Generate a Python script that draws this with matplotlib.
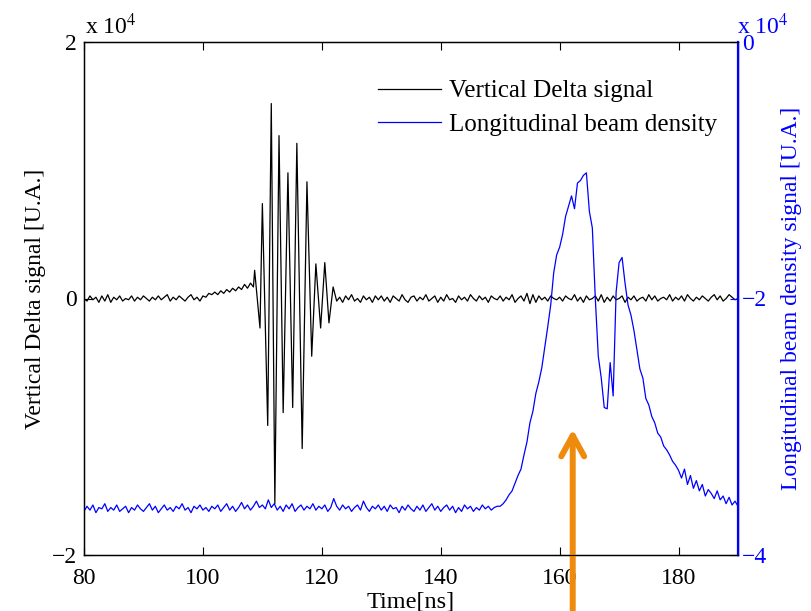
import numpy as np
import matplotlib
matplotlib.use("Agg")
import matplotlib.pyplot as plt

plt.rcParams['font.family'] = ['Liberation Serif', 'DejaVu Serif']
plt.rcParams['mathtext.fontset'] = 'stix'

# ---------------- data ----------------
# Vertical Delta signal, units of 100 counts
delta_t_pre = np.arange(80.0, 108.51, 0.5)
delta_pre = [0, -2, 2, -1, 1, -3, 2, -2, 3, -3, 1, -1, 2, -2, 0, -1, 2, -2, 1, -1,
             2, 0, -2, 1, -1, 2, -1, 1, 3, -2, 1, -1, 2, 0, -2, 1, 3, -1, 1, -2,
             2, 1, 4, 3, 5, 3, 6, 4, 7, 5, 8, 6, 9, 7, 11, 8, 12, 9]
delta_t_burst = [108.7, 109.6, 110.0, 110.9, 111.5, 112.1, 112.8, 113.5, 114.3, 115.1,
                 115.8, 116.7, 117.5, 118.3, 119.0, 119.8, 120.5, 121.2, 121.9]
delta_burst = [22, -23, 74, -99, 152, -160, 127, -89, 98, -85,
               121, -117, 91, -45, 27, -23, 28, -19, 9]
delta_t_post = np.arange(122.5, 190.01, 0.5)
delta_post = [-2, 1, -3, 2, -1, 3, -2, 0, -3, 2, -1, 1, -3, 2, -1,
              2, -2, 1, -3, 2, 0, -2, 3, -1, -3, 1, 2, -2, 1, -1, 3, -2, 0, 2, -3,
              1, -2, 3, -1, 0, -3, 2, -1, 1, -2, 3, 0, -2, 2, -1, 1, -3, 2, 0, -1,
              2, -2, 1, -1, 3, -3, 0, 2, -2, 4, -4, 3, -3, 2, -1, 1, -2, 2, 0, -1,
              1, -2, 2, 0, -1, 3, -2, 1, -3, 2, -1, 0, 2, -2, 3, -3, 1, -2, 2, -1,
              0, 2, -3, 1, -1, 2, -2, 0, 1, -2, 3, -1, 2, -2, 0, 1, -1, 3, -2, 1,
              -1, 2, -2, 3, 0, -2, 1, -1, 2, 0, -2, 1, 3, -1, 2, -2, 0, 3, 1, -1, 0]

# Longitudinal beam density, units of 100 counts
density_t = np.arange(80.0, 190.01, 0.5)
density = [-366, -362, -365, -361, -367, -363, -364, -360, -366, -363, -365, -361, -366, -364, -362, -367, -363, -365, -361, -364,
           -366, -363, -360, -365, -362, -367, -364, -361, -365, -363, -366, -362, -364, -360, -365, -363, -367, -362, -364, -361,
           -365, -363, -366, -362, -364, -361, -366, -363, -360, -365, -362, -366, -363, -359, -364, -361, -365, -362, -358, -363,
           -361, -364, -357, -363, -360, -365, -362, -366, -361, -364, -360, -366, -363, -361, -365, -362, -364, -360, -365, -362,
           -364, -361, -366, -363, -356, -362, -365, -361, -364, -362, -366, -363, -361, -365, -358, -363, -366, -362, -364, -361,
           -365, -362, -366, -361, -364, -363, -367, -362, -365, -361, -364, -366, -362, -365, -361, -366, -363, -360, -365, -362,
           -366, -363, -361, -365, -362, -367, -363, -366, -361, -364, -362, -366, -363, -365, -361, -364, -362, -365, -363, -362,
           -362, -360, -357, -353, -350, -344, -338, -333, -322, -312, -297, -288, -274, -265, -254, -238, -222, -205, -180, -166,
           -160, -150, -136, -128, -120, -130, -110, -108, -104, -102, -132, -145, -200, -245, -262, -285, -286, -250, -276, -195,
           -172, -168, -188, -205, -213, -225, -240, -255, -262, -278, -283, -292, -297, -305, -308, -315, -318, -322, -327, -330,
           -334, -340, -333, -345, -338, -348, -342, -350, -345, -354, -349, -352, -356, -350, -357, -354, -360, -355, -361, -358, -362]

unit = 100.0
delta_t = np.concatenate([delta_t_pre, delta_t_burst, delta_t_post])
delta_v = np.concatenate([delta_pre, delta_burst, delta_post]) * unit
density_v = np.array(density) * unit

x_ticks = [80, 100, 120, 140, 160, 180]
left_ticks = [-2e4, 0, 2e4]
left_labels = ['\u22122', '0', '2']
right_ticks = [-4e4, -2e4, 0]
right_labels = ['\u22124', '\u22122', '0']

arrow_x = 162.2

# ---------------- figure ----------------
W, H = 811, 611
fig = plt.figure(figsize=(W / 100, H / 100), dpi=100)
ax = fig.add_axes([84 / W, 1 - 555 / H, 654 / W, 513 / H])
ax2 = ax.twinx()

fs = 17
blue = '#0000FF'

l1, = ax.plot(delta_t, delta_v, color='black', lw=0.9, label='Vertical Delta signal')
l2, = ax2.plot(density_t, density_v, color=blue, lw=0.9, label='Longitudinal beam density')

ax.set_xlim(80, 190)
ax.set_ylim(-2e4, 2e4)
ax2.set_ylim(-4e4, 0)

ax.set_xticks(x_ticks)
ax.set_xticklabels([str(v) for v in x_ticks], fontsize=fs)
ax.set_yticks(left_ticks)
ax.set_yticklabels(left_labels, fontsize=fs)
ax2.set_yticks(right_ticks)
ax2.set_yticklabels(right_labels, fontsize=fs, color=blue)

ax.tick_params(axis='x', direction='in', length=6, top=True, pad=9)
ax.tick_params(axis='y', direction='in', length=6, pad=5)
ax2.tick_params(axis='y', direction='in', length=6, colors=blue, pad=3)
for s in ax.spines.values():
    s.set_linewidth(1.0)
ax2.spines['right'].set_color(blue)
ax2.spines['right'].set_linewidth(1.6)

ax.set_xlabel('Time[ns]', fontsize=17.5, labelpad=2)
ax.set_ylabel('Vertical Delta signal [U.A.]', fontsize=fs, labelpad=4)
ax2.set_ylabel('Longitudinal beam density signal [U.A.]', fontsize=fs, color=blue, labelpad=10)

fig.text(85 / W, 1 - 34 / H, 'x 10$^{4}$', fontsize=fs, ha='left', va='baseline')
fig.text(737 / W, 1 - 34 / H, 'x 10$^{4}$', fontsize=fs, ha='left', va='baseline', color=blue)

leg = ax.legend([l1, l2], [l1.get_label(), l2.get_label()], loc='upper left',
                bbox_to_anchor=(378 / W, 1 - 80 / H), bbox_transform=fig.transFigure,
                frameon=False, fontsize=18, handlelength=2.5, handletextpad=0.35,
                labelspacing=0.42, borderpad=0, borderaxespad=0)

# orange arrow annotation
ax.annotate('', xy=(arrow_x, -1.02e4), xytext=(arrow_x, -2.6e4),
            xycoords='data', textcoords='data', annotation_clip=False,
            arrowprops=dict(arrowstyle='->,head_length=1.0,head_width=0.55',
                            color='#EE8A0C', lw=4.3, mutation_scale=15,
                            capstyle='round', joinstyle='round',
                            shrinkA=0, shrinkB=0))

fig.savefig('out.png', dpi=100)
